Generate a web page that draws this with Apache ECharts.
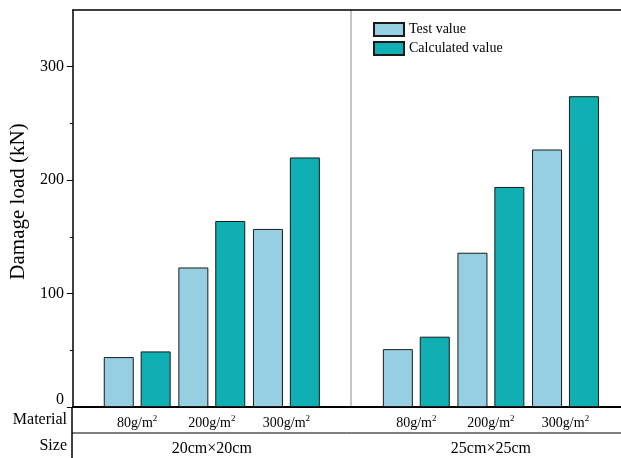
<!DOCTYPE html>
<html>
<head>
<meta charset="utf-8">
<script src="https://cdn.jsdelivr.net/npm/echarts@6/dist/echarts.min.js"></script>
<style>
  html, body { margin: 0; padding: 0; background: #fff; }
  #chart { width: 621px; height: 458px; }
</style>
</head>
<body>
<div id="chart"></div>
<script>
// Fabric grammage (g/m²) groups, one panel per specimen size
const materials = ['80', '200', '300'];
const sizes = ['20cm×20cm', '25cm×25cm'];
const seriesNames = ['Test value', 'Calculated value'];

// Damage load (kN)
const testSmall = [44, 123, 157];
const calcSmall = [49, 164, 220];
const testLarge = [51, 136, 227];
const calcLarge = [62, 194, 274];

const yRange = { min: 0, max: 350, interval: 100 };
const yTickValues = [0, 100, 200, 300];

const FONT = '"Liberation Serif", "Times New Roman", serif';
const COLOR_TEST = '#97cfe2';
const COLOR_CALC = '#10afb4';

const PLOT_TOP = 10;
const PLOT_BOTTOM = 51;
const FRAME_LEFT = 72;
const BAND = 74.6;

function materialLabel(v) {
  return '{b|' + v + 'g/m}{s|2}';
}

function bar(name, data, gridAxis, color) {
  return {
    type: 'bar',
    name: name,
    data: data,
    xAxisIndex: gridAxis,
    yAxisIndex: gridAxis === 2 ? 1 : 2,
    barWidth: 30,
    barGap: '23%',
    itemStyle: { color: color, borderColor: '#1a1a1a', borderWidth: 1 },
    emphasis: { disabled: true },
    animation: false
  };
}

function dataGrid(left) {
  return { left: left, width: BAND * 3, top: PLOT_TOP, bottom: PLOT_BOTTOM, containLabel: false };
}

function materialAxis(gridIndex) {
  return {
    type: 'category', gridIndex: gridIndex, data: materials, position: 'bottom',
    axisLine: { show: false }, axisTick: { show: false }, splitLine: { show: false },
    axisLabel: {
      interval: 0, hideOverlap: false,
      margin: 8, color: '#000', formatter: materialLabel,
      rich: {
        b: { fontFamily: FONT, fontSize: 14, color: '#000', lineHeight: 16 },
        s: { fontFamily: FONT, fontSize: 9, color: '#000', lineHeight: 16, padding: [0, 0, 8, 0] }
      }
    }
  };
}

function sizeAxis(gridIndex, label) {
  return {
    type: 'category', gridIndex: gridIndex, data: [label], position: 'bottom', offset: 26,
    axisLine: { show: false }, axisTick: { show: false }, splitLine: { show: false },
    axisLabel: { interval: 0, margin: 8, color: '#000', fontFamily: FONT, fontSize: 16 }
  };
}

function hiddenY(gridIndex) {
  return { type: 'value', gridIndex: gridIndex, min: yRange.min, max: yRange.max, show: false };
}

const chart = echarts.init(document.getElementById('chart'), null, { renderer: 'canvas' });

chart.setOption({
  backgroundColor: '#fff',
  animation: false,
  legend: {
    data: seriesNames,
    orient: 'vertical',
    left: 373, top: 22,
    padding: 0,
    icon: 'rect',
    itemWidth: 30, itemHeight: 13, itemGap: 4,
    textStyle: { fontFamily: FONT, fontSize: 14, color: '#000' },
    selectedMode: false
  },
  grid: [
    { left: FRAME_LEFT, right: 0, top: PLOT_TOP, bottom: PLOT_BOTTOM },
    dataGrid(99.9),
    dataGrid(379)
  ],
  xAxis: [
    { type: 'value', gridIndex: 0, min: 0, max: 1, axisLabel: { show: false }, axisTick: { show: false },
      splitLine: { show: false }, axisLine: { lineStyle: { color: '#000', width: 2 } } },
    { type: 'value', gridIndex: 0, min: 0, max: 1, position: 'top', axisLabel: { show: false },
      axisTick: { show: false }, splitLine: { show: false },
      axisLine: { onZero: false, lineStyle: { color: '#000', width: 1.5 } } },
    materialAxis(1),
    sizeAxis(1, sizes[0]),
    materialAxis(2),
    sizeAxis(2, sizes[1])
  ],
  yAxis: [
    {
      type: 'value', gridIndex: 0, min: yRange.min, max: yRange.max, interval: yRange.interval,
      name: 'Damage load (kN)', nameLocation: 'middle', nameGap: 37,
      nameTextStyle: { fontFamily: FONT, fontSize: 21, color: '#000', padding: [0, 0, 0, 14] },
      axisLine: { show: true, lineStyle: { color: '#000', width: 1.5 } },
      axisTick: { show: true, inside: false, length: 6, customValues: yTickValues,
                  lineStyle: { color: '#000', width: 1 } },
      minorTick: { show: true, splitNumber: 2, length: 3, lineStyle: { color: '#000', width: 1 } },
      splitLine: { show: false },
      axisLabel: {
        customValues: yTickValues,
        margin: 9, color: '#000', fontFamily: FONT, fontSize: 16,
        formatter: function (v) { return v === 0 ? '{z|0}' : String(v); },
        rich: { z: { fontFamily: FONT, fontSize: 16, color: '#000', padding: [0, 0, 14, 0] } }
      }
    },
    hiddenY(1),
    hiddenY(2)
  ],
  series: [
    bar(seriesNames[0], testSmall, 2, COLOR_TEST),
    bar(seriesNames[1], calcSmall, 2, COLOR_CALC),
    bar(seriesNames[0], testLarge, 4, COLOR_TEST),
    bar(seriesNames[1], calcLarge, 4, COLOR_CALC)
  ],
  graphic: [
    // panel separator between the two specimen sizes
    { type: 'line', shape: { x1: 351, y1: PLOT_TOP, x2: 351, y2: 458 - PLOT_BOTTOM },
      style: { stroke: '#8a8a8a', lineWidth: 1 }, silent: true },
    // table rule between the Material and Size rows
    { type: 'line', shape: { x1: FRAME_LEFT, y1: 433, x2: 621, y2: 433 },
      style: { stroke: '#000', lineWidth: 1 }, silent: true },
    // left rule of the category table
    { type: 'line', shape: { x1: FRAME_LEFT, y1: 458 - PLOT_BOTTOM, x2: FRAME_LEFT, y2: 458 },
      style: { stroke: '#000', lineWidth: 1.5 }, silent: true },
    { type: 'text', right: 621 - 67, top: 412,
      style: { text: 'Material', fontFamily: FONT, fontSize: 16, fill: '#000' }, silent: true },
    { type: 'text', right: 621 - 67, top: 438,
      style: { text: 'Size', fontFamily: FONT, fontSize: 16, fill: '#000' }, silent: true }
  ]
});
</script>
</body>
</html>
